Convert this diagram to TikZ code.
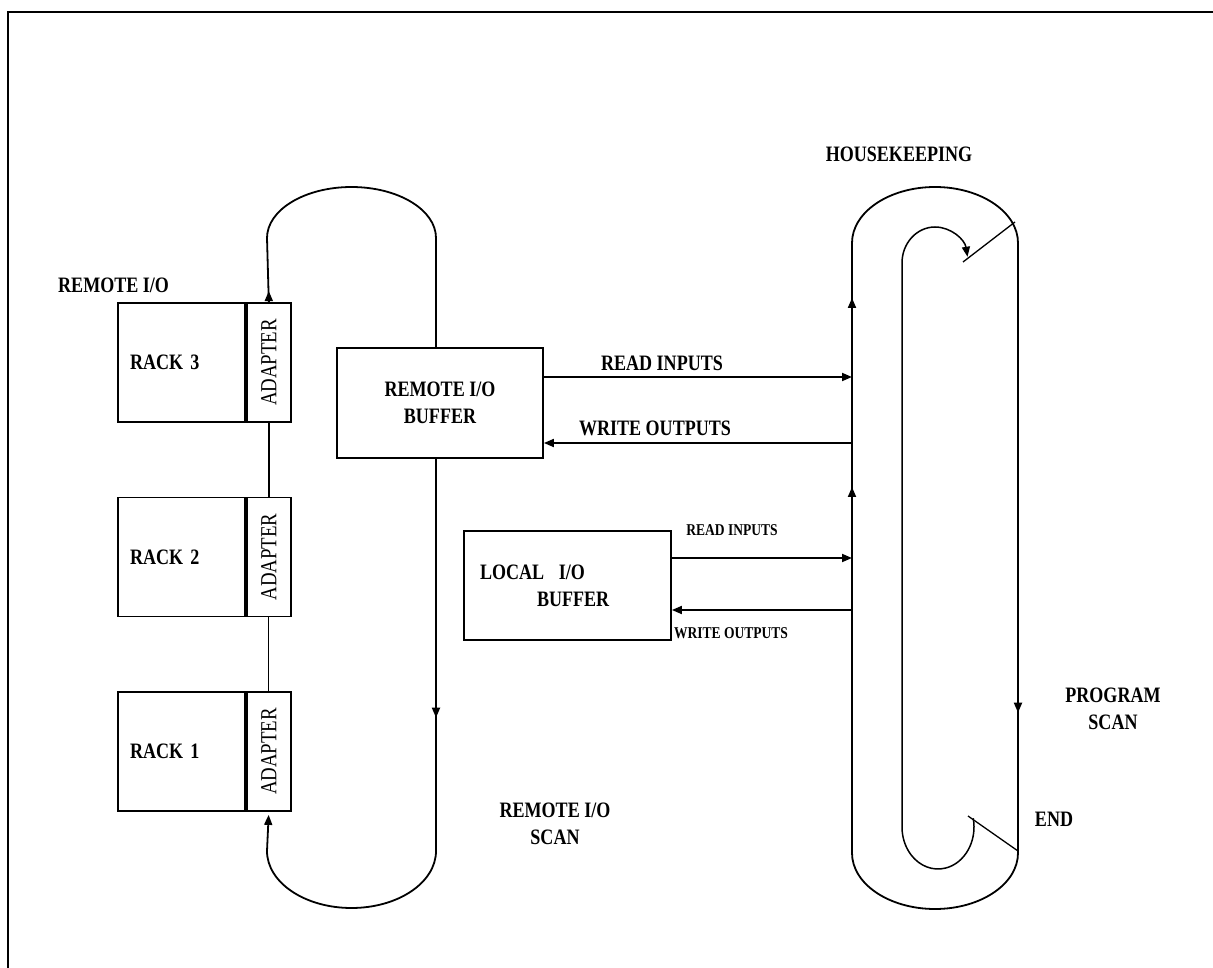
\documentclass[tikz,border=0pt]{standalone}
\usepackage{fontspec}
\setmainfont{Liberation Serif}[FakeStretch=0.82]
\usetikzlibrary{arrows.meta,calc,decorations.markings}
\begin{document}
\begin{tikzpicture}[x=1pt,y=1pt,
  ln/.style={line width=1.8pt},
  tip/.style={-{Triangle[length=10pt,width=8pt]}},
  box/.style={draw,line width=1.8pt,inner sep=0pt},
  lbl/.style={font=\fontsize{22}{27}\selectfont\bfseries,inner sep=0pt,align=center},
  sml/.style={font=\fontsize{16.5}{18}\selectfont\bfseries,inner sep=0pt},
  rackbox/.style={box,minimum width=127pt,minimum height=119pt,text width=103pt,align=left,inner xsep=12pt,font=\fontsize{22}{24}\selectfont\bfseries},
  adaptbox/.style={box,minimum width=44pt,minimum height=119pt,anchor=west,font=\fontsize{23}{24}\selectfont},
  marks/.style={postaction={decorate},decoration={markings,mark=at position #1 with {\arrow{Triangle[length=10pt,width=8pt]}}}},
  marktwo/.style 2 args={postaction={decorate},decoration={markings,
     mark=at position #1 with {\arrow{Triangle[length=10pt,width=8pt]}},
     mark=at position #2 with {\arrow{Triangle[length=10pt,width=8pt]}}}}
]
\useasboundingbox (0,0) rectangle (1213,-968);
% frame
\draw[line width=2.5pt] (8,-968) -- (8,-12) -- (1213,-12);

% racks
\node[rackbox] (rack3) at (181.5,-362.5) {RACK 3};
\node[adaptbox] (ad3) at (rack3.east) {\rotatebox{90}{ADAPTER}};
\node[rackbox] (rack2) at (181.5,-557) {RACK 2};
\node[adaptbox] (ad2) at (rack2.east) {\rotatebox{90}{ADAPTER}};
\node[rackbox] (rack1) at (181.5,-751.5) {RACK 1};
\node[adaptbox] (ad1) at (rack1.east) {\rotatebox{90}{ADAPTER}};
\node[lbl,anchor=west] (remlbl) at (58,-285) {REMOTE I/O};

\draw[ln] (ad3.south) -- (ad2.north);
\draw[line width=1pt] (ad2.south) -- (ad1.north);
\draw[ln,tip] (ad3.north) -- ++(0,11);

% buffers
\node[box,minimum width=206pt,minimum height=110pt,lbl] (rbuf) at (440,-403) {REMOTE I/O\\BUFFER};
\node[box,minimum width=207pt,minimum height=109pt,font=\fontsize{22}{27}\selectfont\bfseries,text width=175pt,align=left,inner xsep=16pt] (lbuf) at (567.5,-585.5) {LOCAL\ \ I/O\\\hspace*{57pt}BUFFER};

% remote I/O scan loop
\coordinate (rL) at (267,-238);
\coordinate (rR) at (436,-238);
\coordinate (rRb) at (436,-851);
\draw[ln] (ad3.north) -- (rL) arc[start angle=180,end angle=0,x radius=84.5pt,y radius=51pt] -- (rR |- rbuf.north);
\draw[ln,marks=0.66] (rR |- rbuf.south) -- (rRb);
\draw[ln,tip,shorten >=3pt] (rRb) arc[start angle=0,end angle=-180,x radius=84.5pt,y radius=57pt] -- (ad1.south);

% program scan loop
\coordinate (pLb) at (852,-853);
\coordinate (pLt) at (852,-243);
\coordinate (pRt) at (1018,-243);
\coordinate (pRb) at (1018,-853);
\draw[ln] (pLt) arc[start angle=180,end angle=0,x radius=83pt,y radius=56pt];
\draw[ln] (pRb) arc[start angle=0,end angle=-180,x radius=83pt,y radius=56pt];
\draw[ln,marktwo={0.6}{0.91}] (pLb) -- (pLt);
\draw[ln,marks=0.77] (pRt) -- (pRb);

% inner program path
\draw[line width=1.5pt,tip] (938,-827) ++(12:36pt and 42pt) arc[start angle=12,end angle=-180,x radius=36pt,y radius=42pt] -- (902,-263) arc[start angle=180,end angle=10,x radius=33pt,y radius=36pt];
\coordinate (tk1a) at (963,-262);
\coordinate (tk1b) at (1015,-222);
\coordinate (tk2a) at (968,-816);
\coordinate (tk2b) at (1018,-851);
\draw[line width=1.3pt] (tk1a) -- (tk1b);
\draw[line width=1.3pt] (tk2a) -- (tk2b);

% read / write connectors
\coordinate (ri) at (852,-377);
\coordinate (wo) at (852,-443);
\coordinate (lri) at (852,-558);
\coordinate (lwo) at (852,-610);
\draw[ln,tip] (rbuf.east |- ri) -- (ri);
\draw[ln,tip] (wo) -- (rbuf.east |- wo);
\draw[ln,tip] (lbuf.east |- lri) -- (lri);
\draw[ln,tip] (lwo) -- (lbuf.east |- lwo);

% labels
\node[lbl] (t-ri) at (662,-363) {READ INPUTS};
\node[lbl] (t-wo) at (655,-428) {WRITE OUTPUTS};
\node[sml] (t-lri) at (732,-530) {READ INPUTS};
\node[sml] (t-lwo) at (731,-633) {WRITE OUTPUTS};
\node[lbl] (t-hk) at (899,-154) {HOUSEKEEPING};
\node[lbl] (t-ps) at (1113,-709) {PROGRAM\\SCAN};
\node[lbl] (t-end) at (1054,-819) {END};
\node[lbl] (t-rs) at (555,-824) {REMOTE I/O\\SCAN};
\end{tikzpicture}
\end{document}
